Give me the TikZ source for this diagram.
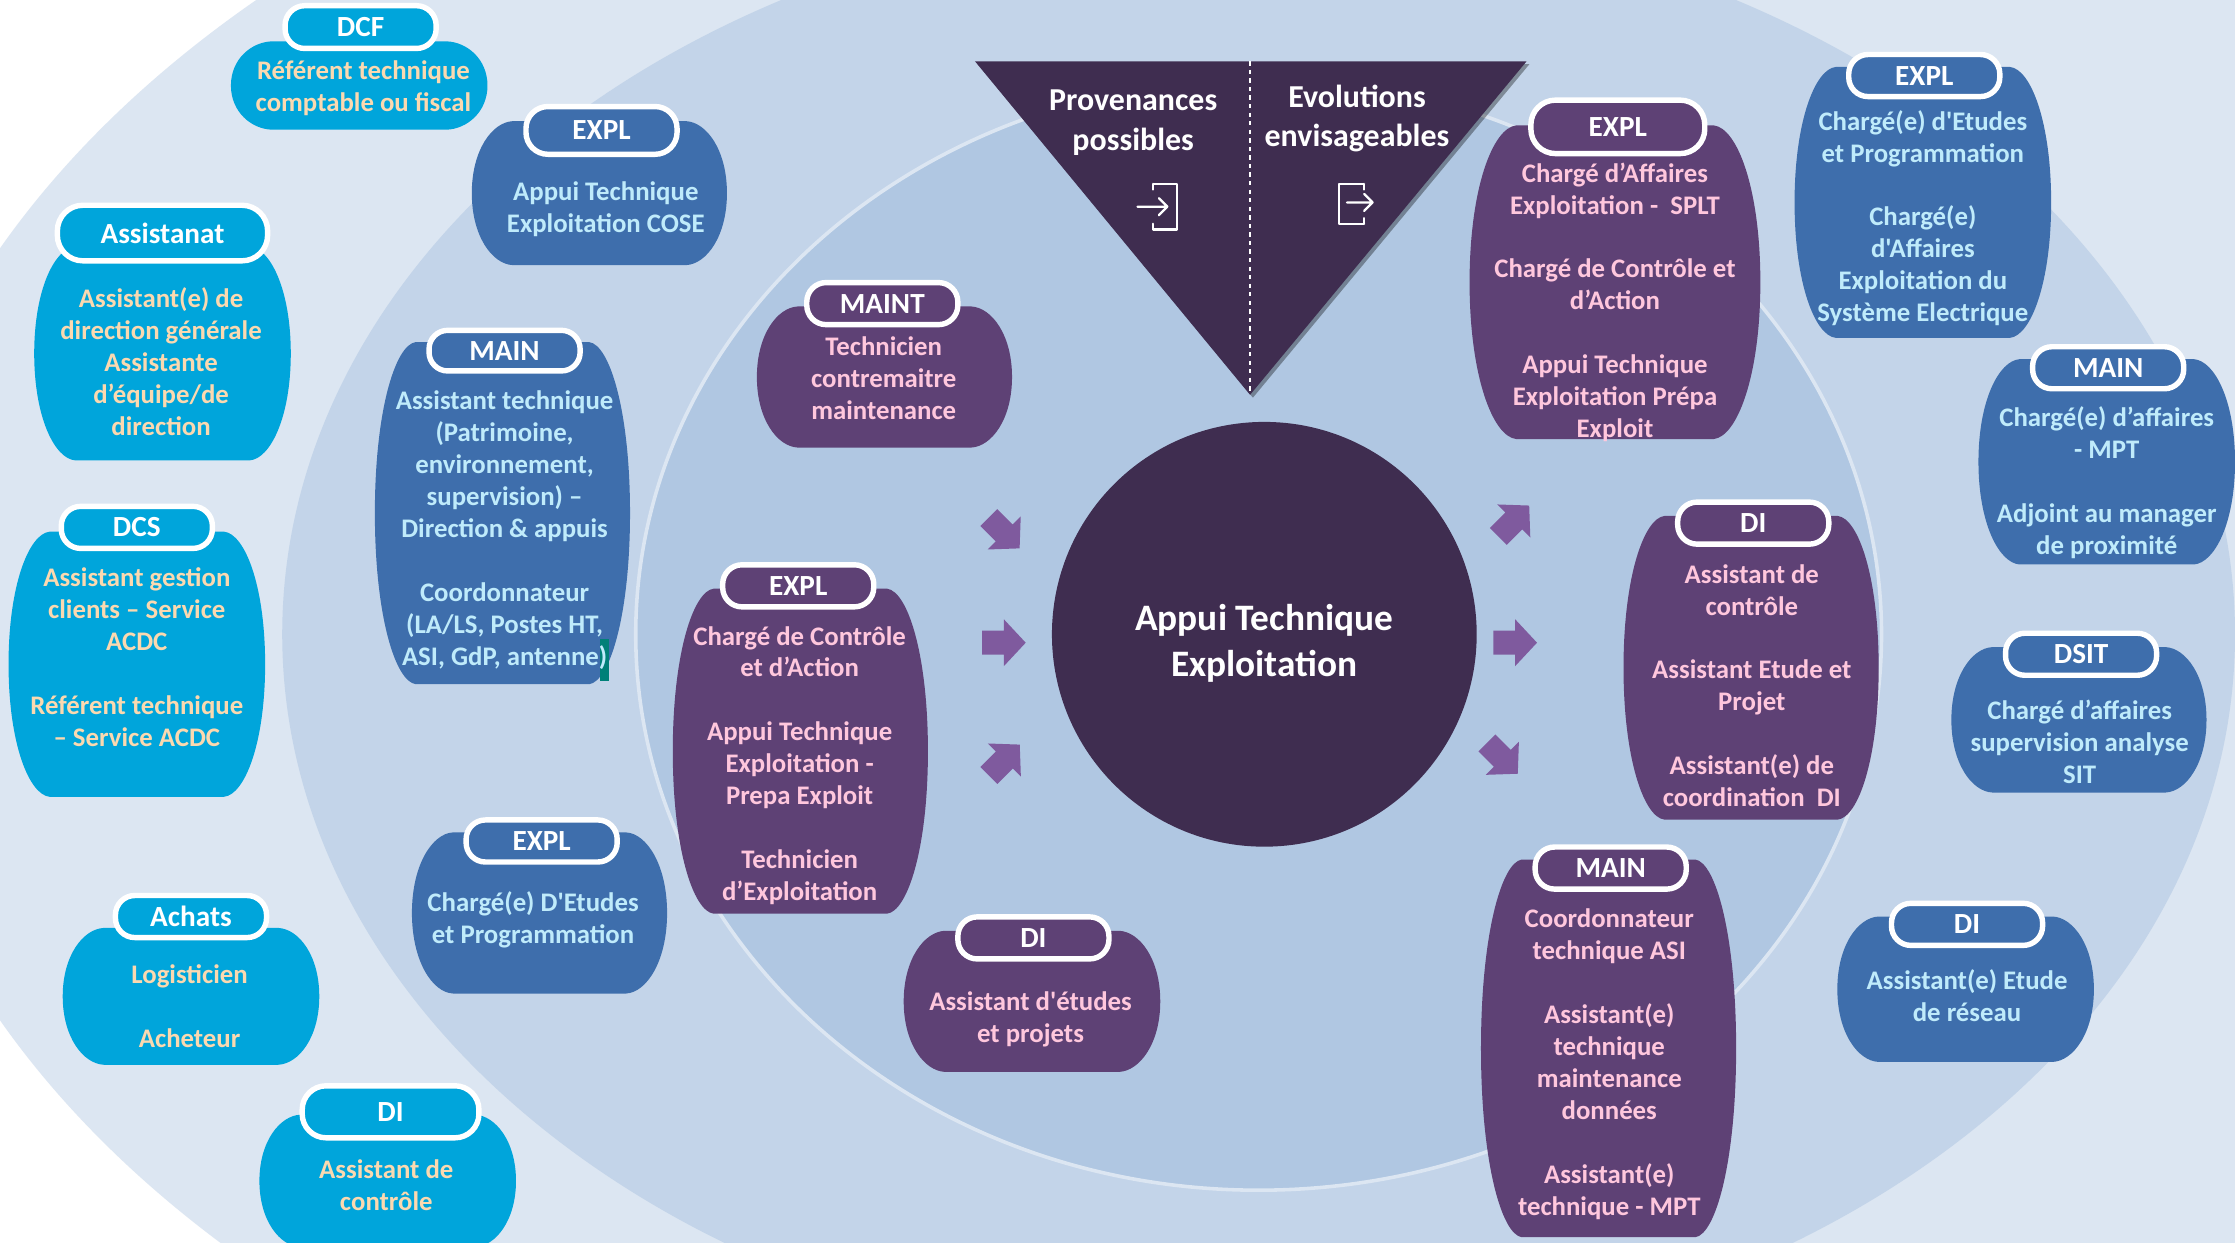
\documentclass[tikz,border=0pt]{standalone}
\usepackage{fontspec}
\newfontfamily\carl{Carlito}
\usetikzlibrary{shadows}
\definecolor{cring}{HTML}{DCE6F2}
\definecolor{cmid}{HTML}{C3D4E9}
\definecolor{cin}{HTML}{B0C7E2}
\definecolor{cdark}{HTML}{3F2D50}
\definecolor{ccyan}{HTML}{00A5DB}
\definecolor{cblue}{HTML}{3E6EAC}
\definecolor{cpurp}{HTML}{5E4175}
\definecolor{tcyan}{HTML}{FBD9B0}
\definecolor{tblue}{HTML}{BFEBFB}
\definecolor{tpurp}{HTML}{FFC7DD}
\definecolor{carrow}{HTML}{7F5A9E}
\definecolor{cteal}{HTML}{008078}
\tikzset{
 x=1pt,y=-1pt,
 cardtext/.style={text=#1,font=\carl\fontsize{18.8}{22.4}\selectfont\bfseries,align=center,inner sep=0pt,anchor=center},
 pilltext/.style={text=white,font=\carl\fontsize{20.5}{22}\selectfont\bfseries,align=center},
 triangletext/.style={text=white,align=center,font=\carl\fontsize{22.4}{27.5}\selectfont\bfseries},
 flowarrow/.pic={\fill[carrow] (-15.3,-8.4) -- (0,-8.4) -- (0,-16.4) -- (15.3,0) -- (0,16.4) -- (0,8.4) -- (-15.3,8.4) -- cycle;},
 iconline/.style={draw=white,line width=1.6pt,line cap=round,line join=round},
}
% body: l,r,t,b
\def\cardshape#1,#2,#3,#4\relax#5{%
 \pgfmathsetmacro\wk{0.16*(#2-#1)}\pgfmathsetmacro\wc{0.08*(#2-#1)}\pgfmathsetmacro\hh{0.30*(#4-#3)}\pgfmathsetmacro\vv{0.008*(#4-#3)}\pgfmathsetmacro\mm{(#3+#4)/2}%
 \fill[#5,line join=round] (#1+\wk,#3) -- (#2-\wk,#3) .. controls (#2-\wc,#3+\vv) and (#2,\mm-\hh) .. (#2,\mm) .. controls (#2,\mm+\hh) and (#2-\wc,#4-\vv) .. (#2-\wk,#4) -- (#1+\wk,#4) .. controls (#1+\wc,#4-\vv) and (#1,\mm+\hh) .. (#1,\mm) .. controls (#1,\mm-\hh) and (#1+\wc,#3+\vv) .. cycle;%
}
% #1 name, #2 colour, #3 l,r,t,b  #4 pill position, #5 pill w, #6 pill h, #7 label
\newcommand{\card}[7]{%
 \cardshape#3\relax{#2}%
 \pgfmathsetmacro\rr{0.46*#6}%
 \node[pilltext,draw=white,fill=#2,line width=3.8pt,rounded corners=\rr pt,minimum width=#5pt,minimum height=#6pt,inner sep=0pt] (#1) at #4 {#7};%
}
\begin{document}
\begin{tikzpicture}
\useasboundingbox (0,0) rectangle (1568,871.4);
\clip (0,0) rectangle (1568,871.4);
\fill[white] (0,0) rectangle (1568,871.4);
\fill[cring] (887,445) ellipse [x radius=977,y radius=645];
\fill[cmid] (883,445) ellipse [x radius=685,y radius=510];
\fill[cin,draw=cring,line width=2.5pt] (883,445) ellipse [x radius=437,y radius=390];

\node[fill=cdark,circle,minimum size=298pt,inner sep=0pt] (hub) at (887,445) {};
\node[text=white,align=center,font=\carl\fontsize{26.2}{32}\selectfont\bfseries] (hublabel) at (887,451.5) {Appui Technique\\Exploitation};

\fill[cdark,drop shadow={shadow xshift=2pt,shadow yshift=-2pt,opacity=.35,fill=black}] (684,43) -- (1071,43) -- (877,277) -- cycle;
\coordinate (dtop) at (877,43);
\coordinate (dbot) at (877,275);
\draw[white,dashed,line width=1pt] (dtop) -- (dbot);
\node[triangletext] (prov) at (795,86) {Provenances\\possibles};
\node[triangletext] (evol) at (952,83) {Evolutions\\envisageables};
\draw[iconline] (809,129) -- (825.5,129) -- (825.5,161) -- (809,161) (809,129) -- (809,133) (809,161) -- (809,157);
\draw[iconline] (798,145) -- (819,145) (813,139) -- (819,145) -- (813,151);
\draw[iconline] (957,129) -- (939.5,129) -- (939.5,157) -- (957,157) (957,129) -- (957,133) (957,157) -- (957,153);
\draw[iconline] (945,142) -- (963,142) (957,136) -- (963,142) -- (957,148);

\pic[rotate=-45] at (704.5,373.9) {flowarrow};
\pic at (704.3,450.9) {flowarrow};
\pic[rotate=45] at (704.6,533.2) {flowarrow};
\pic[rotate=45] at (1062,365.5) {flowarrow};
\pic at (1063,450.9) {flowarrow};
\pic[rotate=-45] at (1054,532) {flowarrow};

% cyan
\card{pa}{ccyan}{162,342,29,91}{(253,19)}{106}{30}{DCF}
\node[cardtext=tcyan] (ta) at (255,62) {Référent technique\\comptable ou fiscal};
\card{pb}{ccyan}{24,204,173,323}{(114,163.5)}{147.5}{39}{Assistanat}
\node[cardtext=tcyan] (tb) at (113,253.5) {Assistant(e) de\\direction générale\\Assistante\\d’équipe/de\\direction};
\card{pc}{ccyan}{6,186,373,559}{(96,370)}{106}{29.5}{DCS}
\node[cardtext=tcyan] (tc) at (96,461) {Assistant gestion\\clients – Service\\ACDC\\[22.4pt]Référent technique\\– Service ACDC};
\card{pd}{ccyan}{44,224,651,747}{(134,643)}{106}{29.5}{Achats}
\node[cardtext=tcyan] (td) at (133,706) {Logisticien\\[22.4pt]Acheteur};
\card{pe}{ccyan}{182,362,782,875}{(274,780)}{124}{36.5}{DI}
\node[cardtext=tcyan] (te) at (271,831.5) {Assistant de\\contrôle};

% blue
\card{pf}{cblue}{331,510,85,186}{(422,91.5)}{106}{33.5}{EXPL}
\node[cardtext=tblue] (tf) at (425,147) {Appui Technique\\Exploitation COSE};
\card{pg}{cblue}{263,442,240,480}{(354,246)}{106}{28.5}{MAIN}
\fill[cteal] (421,448) rectangle (427,478);
\node[cardtext=tblue] (tg) at (354,372) {Assistant technique\\(Patrimoine,\\environnement,\\supervision) –\\Direction \& appuis\\[22.4pt]Coordonnateur\\(LA/LS, Postes HT,\\ASI, GdP, antenne)};
\card{ph}{cblue}{289,468,584,697}{(380,590)}{106}{29.5}{EXPL}
\node[cardtext=tblue] (th) at (374,645) {Chargé(e) D'Etudes\\et Programmation};
\card{pi}{cblue}{1259,1439,47,237}{(1350,53)}{106}{29.5}{EXPL}
\node[cardtext=tblue] (ti) at (1349,153) {Chargé(e) d'Etudes\\et Programmation\\[22.4pt]Chargé(e)\\d'Affaires\\Exploitation du\\Système Electrique};
\card{pj}{cblue}{1388,1568,252,396}{(1479,258)}{106}{29.5}{MAIN}
\node[cardtext=tblue] (tj) at (1478,338.5) {Chargé(e) d’affaires\\- MPT\\[22.4pt]Adjoint au manager\\de proximité};
\card{pk}{cblue}{1369,1548,454,556}{(1460,459)}{106}{29.5}{DSIT}
\node[cardtext=tblue] (tk) at (1459,520.5) {Chargé d’affaires\\supervision analyse\\SIT};
\card{pl}{cblue}{1289,1469,643,745}{(1380,648.5)}{106}{29.5}{DI}
\node[cardtext=tblue] (tl) at (1380,698.5) {Assistant(e) Etude\\de réseau};

% purple
\card{pm}{cpurp}{531,710,215,314}{(619,213)}{106}{29.5}{MAINT}
\node[cardtext=tpurp] (tm) at (620,265.5) {Technicien\\contremaitre\\maintenance};
\card{pn}{cpurp}{472,651,413,641}{(560,411)}{106}{29.5}{EXPL}
\node[cardtext=tpurp] (tn) at (561,537) {Chargé de Contrôle\\et d’Action\\[22.4pt]Appui Technique\\Exploitation -\\Prepa Exploit\\[22.4pt]Technicien\\d’Exploitation};
\card{po}{cpurp}{634,814,653,752}{(725,658)}{106}{29.5}{DI}
\node[cardtext=tpurp] (to) at (723,715) {Assistant d'études\\et projets};
\card{pp}{cpurp}{1031,1235,88,308}{(1135,89)}{122}{37.5}{EXPL}
\node[cardtext=tpurp] (tp) at (1133,212) {Chargé d’Affaires\\Exploitation -\ \ SPLT\\[22.4pt]Chargé de Contrôle et\\d’Action\\[22.4pt]Appui Technique\\Exploitation Prépa\\Exploit};
\card{pq}{cpurp}{1139,1318,362,575}{(1230,367)}{106}{29.5}{DI}
\node[cardtext=tpurp] (tq) at (1229,481) {Assistant de\\contrôle\\[22.4pt]Assistant Etude et\\Projet\\[22.4pt]Assistant(e) de\\coordination\ \ DI};
\card{pr}{cpurp}{1039,1218,603,868}{(1130,609)}{106}{29.5}{MAIN}
\node[cardtext=tpurp] (tr) at (1129,746.5) {Coordonnateur\\technique ASI\\[22.4pt]Assistant(e)\\technique\\maintenance\\données\\[22.4pt]Assistant(e)\\technique - MPT};
\end{tikzpicture}
\end{document}
